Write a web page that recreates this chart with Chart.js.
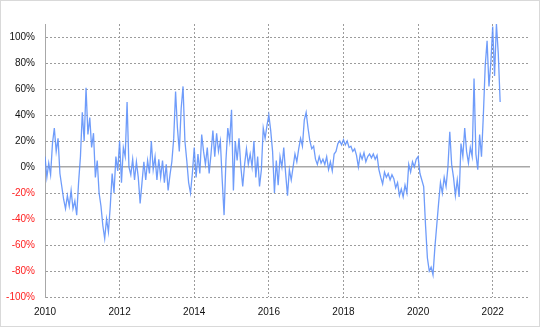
<!DOCTYPE html>
<html>
<head>
<meta charset="utf-8">
<script src="https://cdn.jsdelivr.net/npm/chart.js@4/dist/chart.umd.min.js"></script>
<style>
  html, body { margin: 0; padding: 0; background: #fff; }
  #wrap { position: relative; width: 540px; height: 327px; }
  #frame { position: absolute; left: 0; top: 0; width: 540px; height: 327px; box-sizing: border-box; border: 1px solid #d9d9d9; pointer-events: none; }
</style>
</head>
<body>
<div id="wrap">
  <canvas id="chart" width="540" height="327"></canvas>
  <div id="frame"></div>
</div>
<script>
const START_YEAR = 2010;
const STEP = 0.05;
const X_TICKS = [2010, 2012, 2014, 2016, 2018, 2020, 2022];
const Y_TICKS = [-100, -80, -60, -40, -20, 0, 20, 40, 60, 80, 100];

const values = [
  8, -8, 3, -6, 18, 30, 12, 22, -5, -15,
  -25, -32, -22, -30, -18, -32, -26, -37, -12, 8,
  42, 20, 61, 25, 38, 15, 26, -8, 5, -20,
  -30, -45, -55, -40, -50, -30, -5, -20, 8, -3,
  20, -12, 15, 8, 50, 0, -6, 6, -10, 4,
  -8, -28, -12, 4, -10, 5, -5, 20, -2, 8,
  -10, 6, -8, 5, -12, 2, -18, -6, 4, 22,
  58, 30, 12, 45, 62, 20, 5, -12, -20, -5,
  15, -8, 10, -5, 25, 12, 2, 15, -5, 10,
  28, 8, 26, 12, 20, -10, -37, 5, 30, 20,
  44, -18, 20, 5, 22, 0, -15, 2, 14, 2,
  10, 0, 20, -8, 8, -15, -2, 30, 22, 32,
  40, 28, 12, -20, 5, -14, 8, 0, 15, -5,
  -22, -2, -10, 0, 10, 4, 14, 22, 16, 36,
  42, 30, 20, 14, 16, 6, 2, 8, 3, 6,
  2, 8, -2, 4, -3, 10, 12, 18, 20, 17,
  21, 17, 20, 15, 16, 12, 14, 9, 0, 10,
  6, 11, 4, 8, 10, 7, 10, 6, 9, -2,
  -8, -13, -4, -8, -5, -10, -6, -9, -16, -12,
  -22, -17, -23, -14, -20, 2, -4, 4, 0, 6,
  8, -5, -10, -15, -45, -70, -80, -77, -83, -62,
  -45, -28, -12, -20, -8, -15, 0, 27, 2, -8,
  -22, -10, -23, 18, 8, 30, 12, 3, 15, 8,
  68, 10, -2, 25, 8, 40, 78, 97, 62, 80,
  108, 70, 110, 87, 50
];

const points = values.map((v, i) => ({ x: START_YEAR + i * STEP, y: v }));

const FONT = { family: "'Liberation Sans Narrow', 'Liberation Sans', sans-serif", size: 10 };
const GRID = '#9c9c9c';

new Chart(document.getElementById('chart'), {
  type: 'line',
  data: {
    datasets: [{
      data: points,
      borderColor: 'rgba(95,145,250,0.9)',
      borderWidth: 1.3,
      pointRadius: 0,
      tension: 0,
      fill: false
    }]
  },
  options: {
    responsive: false,
    animation: false,
    layout: { padding: { left: 0, top: 24, right: 10, bottom: 0 } },
    plugins: { legend: { display: false }, tooltip: { enabled: false } },
    scales: {
      x: {
        type: 'linear',
        min: 2010, max: 2023,
        afterBuildTicks: s => { s.ticks = X_TICKS.map(v => ({ value: v })); },
        afterFit: s => { s.height = 30; },
        grid: { color: GRID, lineWidth: 1, drawTicks: false },
        border: { display: false, dash: [2, 2] },
        ticks: { padding: 9, color: '#111', font: FONT, callback: v => String(v) }
      },
      y: {
        min: -100, max: 110,
        afterBuildTicks: s => { s.ticks = Y_TICKS.map(v => ({ value: v })); },
        afterFit: s => { s.width = 45; },
        grid: {
          drawTicks: false,
          color: c => (c.tick && c.tick.value === 0) ? '#a8a8a8' : GRID,
          lineWidth: c => (c.tick && c.tick.value === 0) ? 1.5 : 1
        },
        border: {
          display: true, color: '#a8a8a8', width: 1,
          dash: c => (c.tick && c.tick.value === 0) ? [] : [2, 2]
        },
        ticks: {
          padding: 10,
          font: FONT,
          color: c => c.tick.value < 0 ? '#ff2020' : '#111',
          callback: v => v + '%'
        }
      }
    }
  }
});
</script>
</body>
</html>
